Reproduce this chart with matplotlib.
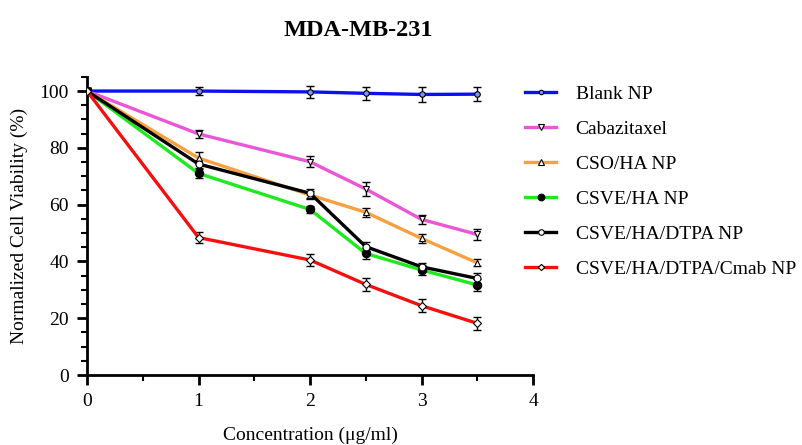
import numpy as np
import matplotlib
matplotlib.use('Agg')
import matplotlib.pyplot as plt
from matplotlib.ticker import MultipleLocator

plt.rcParams['font.family'] = ['Liberation Serif', 'DejaVu Serif']

conc = [0, 1, 2, 2.5, 3, 3.5]

labels = ['Blank NP', 'Cabazitaxel', 'CSO/HA NP', 'CSVE/HA NP',
          'CSVE/HA/DTPA NP', 'CSVE/HA/DTPA/Cmab NP']

blank = [100, 100, 99.7, 99.2, 98.8, 98.9]
caba = [100, 84.9, 75.1, 65.5, 54.8, 49.5]
cso = [100, 76.4, 63.4, 57.3, 48.1, 39.5]
csve = [100, 71.0, 58.3, 42.8, 37.0, 31.7]
dtpa = [100, 74.3, 64.0, 45.2, 38.1, 34.0]
cmab = [100, 48.4, 40.5, 31.9, 24.4, 18.2]

blank_err = [1.0, 1.5, 2.0, 2.2, 2.5, 2.5]
caba_err = [1.0, 1.5, 2.0, 2.5, 1.5, 1.8]
cso_err = [1.0, 2.0, 1.5, 1.5, 1.5, 1.2]
csve_err = [1.0, 1.5, 1.2, 2.0, 1.8, 2.0]
dtpa_err = [1.0, 1.5, 1.5, 1.5, 1.5, 2.0]
cmab_err = [1.0, 1.8, 2.0, 2.2, 2.3, 2.2]

series = [blank, caba, cso, csve, dtpa, cmab]
errors = [blank_err, caba_err, cso_err, csve_err, dtpa_err, cmab_err]
colors = ['#0a10f0', '#ec55d8', '#f7a040', '#1ee81e', '#000000', '#f51010']
markers = ['o', 'v', '^', 'o', 'o', 'D']
mfaces = ['#8090ff', 'white', 'white', 'black', 'white', 'white']
msizes = [4, 5, 5, 6, 5, 4]

fig = plt.figure(figsize=(8.02, 4.45), dpi=100)
ax = fig.add_axes([0.1085, 0.1573, 0.5561, 0.67])

for y, e, c, m, mf, ms, lab in zip(series, errors, colors, markers, mfaces, msizes, labels):
    ax.errorbar(conc, y, yerr=e, fmt='none', ecolor='black', elinewidth=1,
                capsize=3, capthick=1, zorder=2)
    ax.plot(conc, y, color=c, lw=2.4, marker=m, markersize=ms,
            markerfacecolor=mf, markeredgecolor='black', markeredgewidth=0.8,
            label=lab, zorder=3)

ax.set_xlim(0, 4)
ax.set_ylim(0, 105)
ax.xaxis.set_major_locator(MultipleLocator(1))
ax.xaxis.set_minor_locator(MultipleLocator(0.5))
ax.yaxis.set_major_locator(MultipleLocator(20))
ax.yaxis.set_minor_locator(MultipleLocator(5))
ax.spines['top'].set_visible(False)
ax.spines['right'].set_visible(False)
ax.spines['left'].set_linewidth(2)
ax.spines['bottom'].set_linewidth(2)
ax.tick_params(which='major', length=7, width=2, labelsize=14, pad=6)
ax.tick_params(which='minor', length=4, width=1.5)

ax.set_xlabel('Concentration (μg/ml)', fontsize=14, labelpad=12)
ax.set_ylabel('Normalized Cell Viability (%)', fontsize=14, labelpad=8)

fig.text(358 / 802, 1 - 30 / 445, 'MDA-MB-231', fontsize=17.5, fontweight='bold',
         ha='center', va='center')

ax.legend(loc='upper left', bbox_to_anchor=(0.982, 0.973), frameon=False,
          fontsize=14, handlelength=1.6, labelspacing=0.9, handletextpad=1.0,
          borderpad=0, borderaxespad=0, markerscale=0.8)

fig.savefig('out.png', dpi=100)
